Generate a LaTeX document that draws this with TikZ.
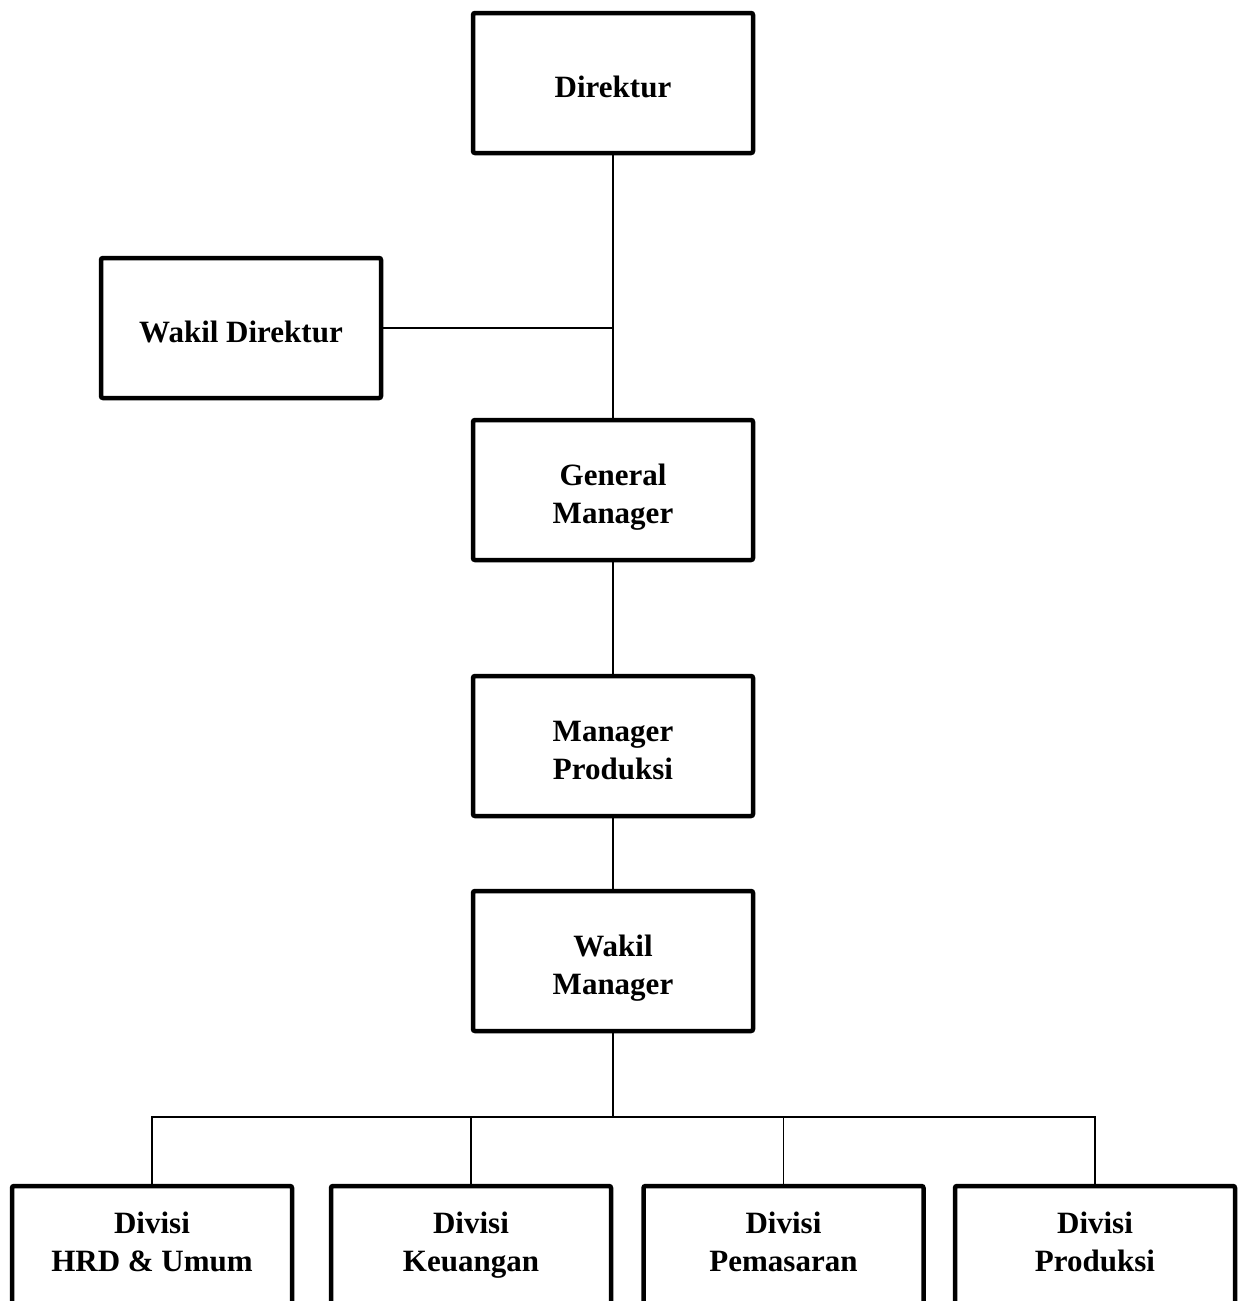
\documentclass[tikz,border=0pt]{standalone}
\usepackage{fontspec}
\setmainfont{Liberation Serif}
\usetikzlibrary{positioning}

\begin{document}
\begin{tikzpicture}[x=0.5pt,y=-0.5pt,
    font=\fontsize{15.5}{19}\selectfont\bfseries,
    box/.style={draw,line width=2.25pt,rounded corners=1pt,align=center,
                minimum width=140pt,minimum height=70pt,inner sep=0pt,
                text depth=0pt},
    onebox/.style={box,text height=14pt},
    twobox/.style={box,text height=33.5pt},
    divbox/.style={box,text depth=14pt},
    link/.style={line width=0.75pt}]
  \useasboundingbox (0,0) rectangle (1243,1301);
  \clip (0,0) rectangle (1243,1301);
  % jalur utama
  \node[onebox] (dir) at (613,83) {Direktur};
  \node[twobox,below=131.25pt of dir] (gm) {General\\Manager};
  \node[twobox,below=55.75pt of gm] (mp) {Manager\\Produksi};
  \node[twobox,below=35.25pt of mp] (wm) {Wakil\\Manager};
  \node[onebox] (wdir) at (241,328) {Wakil Direktur};
  % divisi
  \node[divbox] (hrd) at (152,1256) {Divisi\\HRD \& Umum};
  \node[divbox] (keu) at (471,1256) {Divisi\\Keuangan};
  \node[divbox] (pem) at (783.5,1256) {Divisi\\Pemasaran};
  \node[divbox] (prod) at (1095,1256) {Divisi\\Produksi};
  \coordinate (bus) at (613,1117);

  \draw[link] (dir) -- (gm);
  \draw[link] (wdir.east) -- (wdir.east -| dir.south);
  \draw[link] (gm) -- (mp);
  \draw[link] (mp) -- (wm);
  \draw[link] (wm.south) -- (bus);
  \draw[link] (hrd.north) |- (prod.north |- bus) -- (prod.north);
  \draw[link] (keu.north) -- (keu.north |- bus);
  \draw[link] (pem.north) -- (pem.north |- bus);
\end{tikzpicture}
\end{document}
